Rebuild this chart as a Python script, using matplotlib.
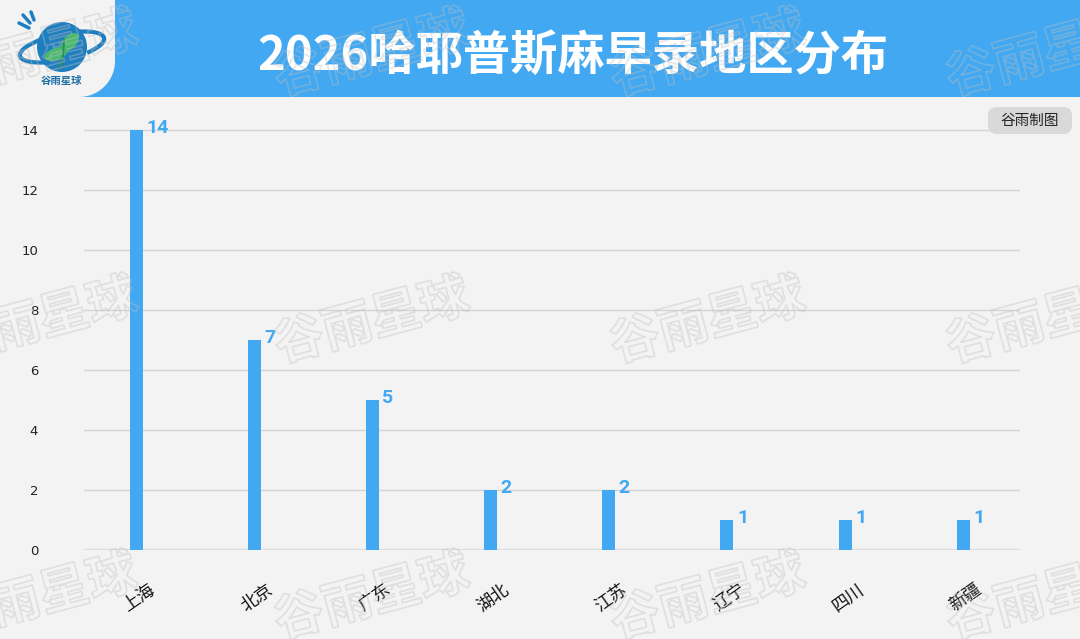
import numpy as np
import matplotlib
matplotlib.use("Agg")
import matplotlib.pyplot as plt
import matplotlib.patches as mpatches
import matplotlib.patheffects as pe
from matplotlib.path import Path
from matplotlib.transforms import offset_copy

plt.rcParams['font.family'] = ['Noto Sans CJK SC', 'DejaVu Sans']

# data
title = "2026哈耶普斯麻早录地区分布"
regions = ["上海", "北京", "广东", "湖北", "江苏", "辽宁", "四川", "新疆"]
counts = [14, 7, 5, 2, 2, 1, 1, 1]
yticks = [0, 2, 4, 6, 8, 10, 12, 14]
credit = "谷雨制图"
brand = "谷雨星球"

BG = '#f3f3f3'
BLUE = '#41a8f1'
W, H = 1080, 639

fig = plt.figure(figsize=(W / 100, H / 100), dpi=100, facecolor=BG)

# main chart axes (pixel layout: x 84..1020, y=0 at 550, 30px per unit)
ymax = 14.5
ax = fig.add_axes([84 / W, (H - 550) / H, 936 / W, ymax * 30 / H])
ax.set_facecolor(BG)
x = np.arange(len(regions))
ax.bar(x, counts, width=0.11, color=BLUE, zorder=3)
ax.set_xlim(-0.44, len(regions) - 1 + 0.48)
ax.set_ylim(0, ymax)
ax.set_yticks(yticks)
ax.set_yticklabels([str(t) for t in yticks], family='DejaVu Sans', fontsize=9.5, color='#222222')
ax.tick_params(axis='y', length=0, pad=33)
ax.set_xticks([])
for s in ax.spines.values():
    s.set_visible(False)
for t in yticks[1:]:
    ax.axhline(t, color='#d4d4d4', lw=1, zorder=1)
ax.axhline(0, color='#dedede', lw=2.5, zorder=2)

# value labels
for xi, v in zip(x, counts):
    ax.text(xi, v, str(v), transform=offset_copy(ax.transData, fig=fig, x=10, y=2, units='dots'),
            ha='left', va='center', fontsize=14, fontweight='bold', family='Roboto', color=BLUE, zorder=4)

# rotated category labels
for xi, lab in zip(x, regions):
    ax.text(xi, 0, lab, transform=offset_copy(ax.transData, fig=fig, x=17, y=-38, units='dots'),
            rotation=35, rotation_mode='anchor', ha='right', va='center', fontsize=12.5, color='#111111')

# overlay in pixel coordinates for header, logo, badge and watermark
ov = fig.add_axes([0, 0, 1, 1], zorder=5)
ov.set_xlim(0, W)
ov.set_ylim(H, 0)
ov.axis('off')
ov.patch.set_alpha(0)

ov.add_patch(mpatches.Rectangle((0, 0), W, 97, color=BLUE, lw=0))
ang = np.linspace(0, np.pi / 2, 30)
cx, cy, r = 79, 61, 36
verts = [(0, 0), (115, 0), (115, cy)] + [(cx + r * np.cos(a), cy + r * np.sin(a)) for a in ang] + [(0, 97), (0, 0)]
ov.add_patch(mpatches.PathPatch(Path(verts, closed=True), facecolor=BG, lw=0))

# logo
ov.add_patch(mpatches.Arc((62, 47), 86, 26, angle=-12, theta1=150, theta2=215, color='#1e7fc0', lw=3))
ov.add_patch(mpatches.Arc((62, 47), 86, 26, angle=-12, theta1=-35, theta2=25, color='#1e7fc0', lw=3))
ov.add_patch(mpatches.Circle((62, 47), 25, color='#1e7fc0', lw=0))
ov.add_patch(mpatches.Ellipse((56, 54), 24, 12, angle=-20, color='#48b96e', lw=0))
ov.add_patch(mpatches.Ellipse((70, 42), 22, 13, angle=-45, color='#48b96e', lw=0))
ov.plot([60, 63, 64], [68, 56, 40], color='#2a8f55', lw=1.5)
for (x0, y0, x1, y1) in [(19, 23, 29, 28), (23, 15, 30, 23), (31, 12, 34, 20)]:
    ov.plot([x0, x1], [y0, y1], color='#1e7fc0', lw=2.5, solid_capstyle='round')
ov.text(62, 81, brand, ha='center', va='center', fontsize=7.5, color='#1f6ea6', fontweight='bold')

ov.text(573, 56, title, ha='center', va='center', fontsize=34, fontweight='heavy', color='white')

ov.add_patch(mpatches.FancyBboxPatch((988, 107), 84, 27, boxstyle='round,pad=0,rounding_size=9',
                                     facecolor='#d9d9d9', lw=0))
ov.text(1030, 121, credit, ha='center', va='center', fontsize=10.5, color='#222222')

# watermark grid
for wy in [55, 322, 598]:
    for wx in [40, 372, 708, 1044]:
        ov.text(wx, wy, brand, ha='center', va='center', rotation=15, fontsize=36, fontweight='heavy',
                color=(1, 1, 1, 0),
                path_effects=[pe.Stroke(linewidth=1.2, foreground=(0.75, 0.75, 0.75, 0.38))])

fig.savefig('out.png', dpi=100, facecolor=BG)
